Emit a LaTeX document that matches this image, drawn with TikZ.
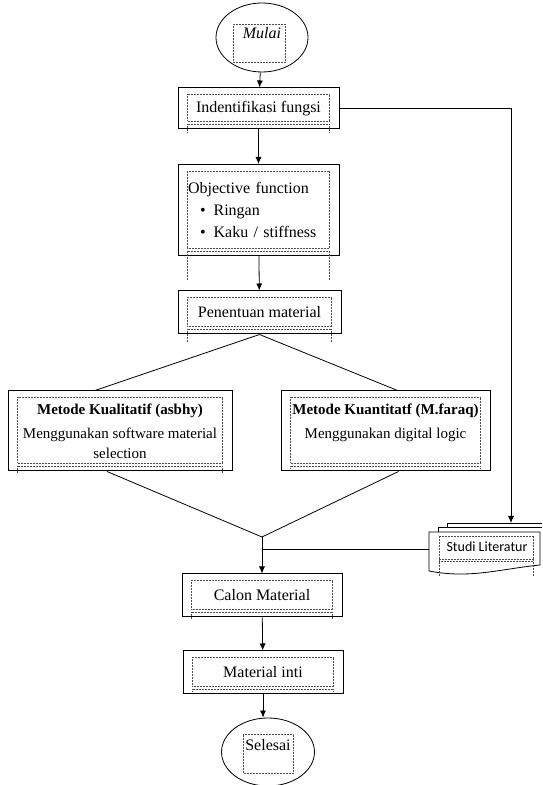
\documentclass[tikz,border=0pt]{standalone}
\usepackage{fontspec}
\setmainfont{Liberation Serif}
\newfontfamily\calibrifont{Carlito}
\usetikzlibrary{shapes.geometric,arrows.meta}

\tikzset{
  flowbox/.style={draw, line width=1pt, rectangle, inner sep=0pt, align=center},
  endpoint/.style={draw, line width=0.8pt, ellipse, inner sep=0pt},
  link/.style={line width=0.8pt},
  arrowlink/.style={link, -{Latex[length=7pt,width=6pt]}},
  frameline/.style={densely dotted, line width=0.5pt, black!70},
}

% dotted text frame inside a box: node name, drop below the box
\newcommand{\txtframe}[2]{%
  \draw[frameline] ([shift={(10,-7)}]#1.north west) rectangle ([shift={(-10,8)}]#1.south east);
  \draw[frameline] ([shift={(10,5)}]#1.south west) -- ([shift={(-10,5)}]#1.south east);
  \draw[frameline] ([shift={(10,5)}]#1.south west) -- ++(0,-#2);
  \draw[frameline] ([shift={(-10,5)}]#1.south east) -- ++(0,-#2);
}

\begin{document}
\begin{tikzpicture}[x=1pt, y=1pt, font=\fontsize{16}{18}\selectfont]
\clip (0,0) rectangle (542,785);

% start
\node[endpoint, minimum width=92, minimum height=69, text depth=9pt] (mulai) at (262,747.5) {\itshape Mulai};
\draw[frameline] ([shift={(-29,-25)}]mulai.center) rectangle ([shift={(23,13)}]mulai.center);

% main boxes
\node[flowbox, minimum width=161, minimum height=41] (ident) at (258.5,676.5) {Indentifikasi fungsi};
\txtframe{ident}{9}

\node[flowbox, minimum width=161, minimum height=91, inner xsep=10pt, text width=141pt, align=left,
      font=\fontsize{16}{22}\selectfont] (objective) at (258.5,575)
  {Objective function\\
   \hspace*{12pt}\textbullet\hspace{8pt}Ringan\\
   \hspace*{12pt}\textbullet\hspace{8pt}Kaku / stiffness};
\txtframe{objective}{30}

\node[flowbox, minimum width=163, minimum height=43] (penentuan) at (259.5,472.5) {Penentuan material};
\txtframe{penentuan}{13}

\node[flowbox, minimum width=224, minimum height=80, font=\fontsize{15}{20}\selectfont] (kual) at (120,354)
  {\textbf{Metode Kualitatif (asbhy)}\\[4pt] Menggunakan software material\\ selection};
\txtframe{kual}{7}

\node[flowbox, minimum width=209, minimum height=80, font=\fontsize{15}{20}\selectfont] (kuan) at (385.5,354)
  {\textbf{Metode Kuantitatf (M.faraq)}\\[4pt] Menggunakan digital logic\\ \mbox{}};
\txtframe{kuan}{3}

\coordinate (merge) at (262,248);

\node[flowbox, minimum width=160, minimum height=43] (calon) at (262,189.5) {Calon Material};
\txtframe{calon}{7}

\node[flowbox, minimum width=160, minimum height=43] (inti) at (263,112.5) {Material inti};
\txtframe{inti}{3}

% end
\node[endpoint, minimum width=93, minimum height=68, text depth=14pt] (selesai) at (268,33) {Selesai};
\draw[frameline] ([shift={(-25,-21)}]selesai.center) rectangle ([shift={(25,18)}]selesai.center);

% literature (stacked documents)
\draw[link] (447,258) -- (447,262) -- (545,262);
\draw[link] (438,253) -- (438,258) -- (545,258);
\draw[link, fill=white] (429,253) -- (540,253) -- (540,220)
  .. controls (500,216) and (470,206) .. (429,214) -- cycle;
\node[font=\calibrifont\fontsize{14}{16}\selectfont] (studi) at (487,238) {Studi Literatur};
\draw[frameline] (439,249) rectangle (533,226);
\draw[frameline] (439,223.5) -- (533,223.5);
\draw[frameline] (439,226) -- (439,208);
\draw[frameline] (533,226) -- (533,208);
\coordinate (studitop) at (511,262);
\coordinate (studiwest) at (429,236);

% connectors
\draw[arrowlink] (mulai) -- (ident);
\draw[arrowlink] (ident) -- (objective);
\draw[arrowlink] (objective) -- (penentuan);
\draw[link] (penentuan.south) -- ([xshift=-25]kual.north);
\draw[link] (penentuan.south) -- ([xshift=12]kuan.north);
\draw[link] ([xshift=-13]kual.south) -- (merge);
\draw[link] ([xshift=13]kuan.south) -- (merge);
\draw[arrowlink] (merge) -- (calon);
\draw[arrowlink] (calon) -- (inti);
\draw[arrowlink] (inti.south) -- (inti.south |- selesai.north);
\draw[arrowlink] (ident.east) -| (studitop);
\draw[link] (studiwest) -- (studiwest -| merge);
\end{tikzpicture}
\end{document}
